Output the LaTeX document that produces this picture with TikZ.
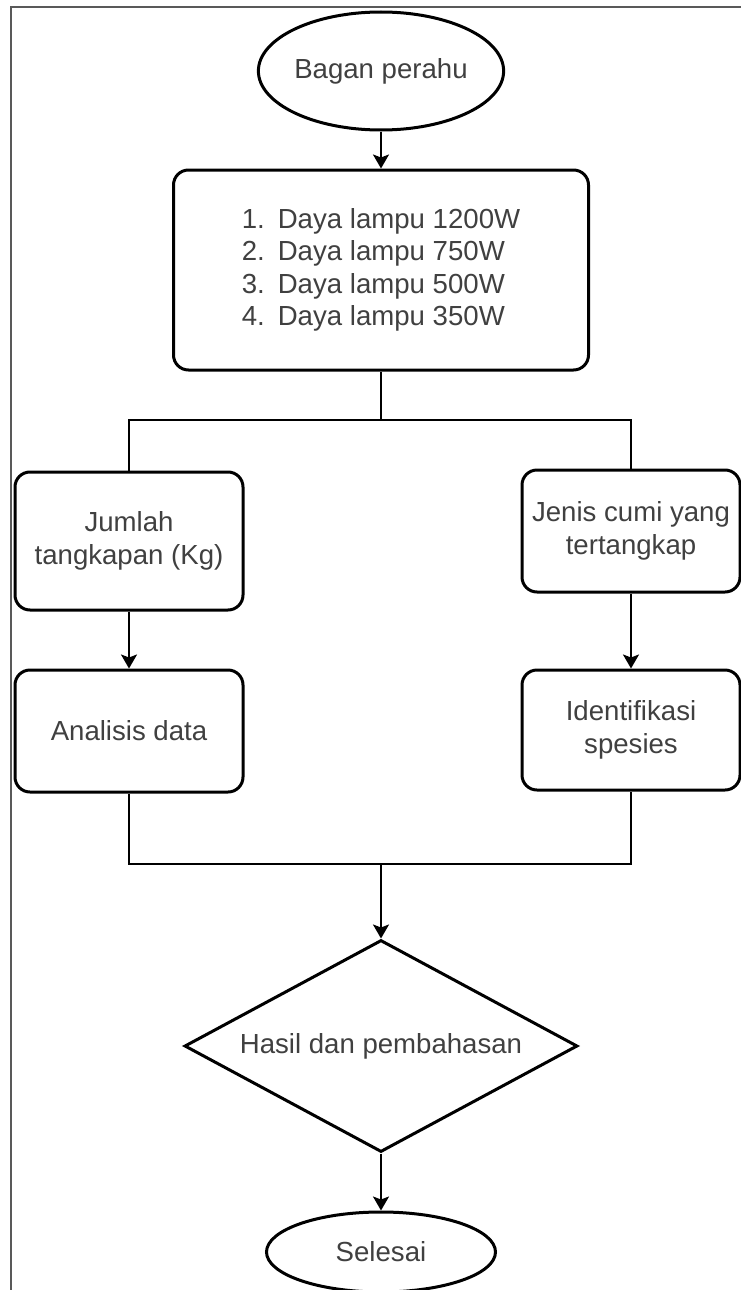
\documentclass[tikz,border=0pt]{standalone}
\usepackage{fontspec}
\setmainfont{Liberation Sans}
\usetikzlibrary{arrows.meta}
\usetikzlibrary{shapes.geometric}
\tikzset{terminal/.style = {draw, ellipse, line width = 3pt, inner sep = 0, text = black!75}}
\tikzset{process/.style = {draw, rectangle, rounded corners = 15pt, line width = 3pt, inner sep = 0,
                           align = center, text = black!75}}
\tikzset{decision/.style = {draw, diamond, line width = 3pt, inner sep = 0, text = black!75}}
\tikzset{conn/.style = {line width = 2pt}}
\tikzset{arr/.style = {line width = 2pt, -{Stealth[length = 14pt, width = 16pt, inset = 3pt]}}}
\tikzset{frame/.style = {line width = 1.6pt, black!65}}
\newcommand{\itemno}[1]{\makebox[36pt][l]{#1}}

\begin{document}
\begin{tikzpicture}[x = 1pt, y = -1pt, font = \fontsize{27.6}{32.3}\selectfont]
      \useasboundingbox (0, 0) rectangle (741, 1290);
      \draw [frame] (11, 1290) -- (11, 7) -- (741, 7);

      \node [terminal, minimum width = 233pt, minimum height = 118pt] (bagan) at (381, 71) {Bagan perahu};
      \node [process, minimum width = 415pt, minimum height = 200pt, align = left] (lampu) at (381, 270)
            {\itemno{1.}Daya lampu 1200W\\ \itemno{2.}Daya lampu 750W\\
             \itemno{3.}Daya lampu 500W\\ \itemno{4.}Daya lampu 350W};
      \node [process, minimum width = 228pt, minimum height = 138pt] (jumlah) at (129, 541) {Jumlah\\tangkapan (Kg)};
      \node [process, minimum width = 218pt, minimum height = 122pt] (jenis) at (631, 531) {Jenis cumi yang\\tertangkap};
      \node [process, minimum width = 228pt, minimum height = 122pt] (analisis) at (129, 731) {Analisis data};
      \node [process, minimum width = 218pt, minimum height = 120pt] (identifikasi) at (631, 730) {Identifikasi\\spesies};
      \node [decision, minimum width = 393pt, minimum height = 212pt] (hasil) at (381, 1046)
            {\makebox[0pt]{Hasil dan pembahasan}};
      \node [terminal, minimum width = 229pt, minimum height = 80pt] (selesai) at (381, 1252) {Selesai};

      \coordinate (fork) at (381, 420);
      \coordinate (join) at (381, 864);

      \draw [arr] (bagan) -- (lampu);
      \draw [conn] (lampu) -- (fork);
      \draw [conn] (jumlah) |- (fork) -| (jenis);
      \draw [arr] (jumlah) -- (analisis);
      \draw [arr] (jenis) -- (identifikasi);
      \draw [conn] (analisis) |- (join) -| (identifikasi);
      \draw [arr] (join) -- (hasil);
      \draw [arr] (hasil) -- (selesai);
    \end{tikzpicture}
\end{document}
